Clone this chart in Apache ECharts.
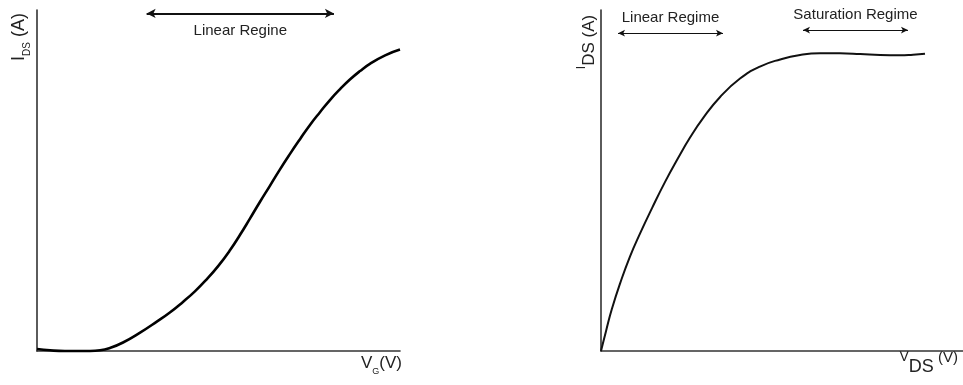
<!DOCTYPE html>
<html>
<head>
<meta charset="utf-8">
<script src="https://cdn.jsdelivr.net/npm/echarts@6/dist/echarts.min.js"></script>
<style>
  html, body { margin: 0; padding: 0; background: #fff; }
  #chart { width: 963px; height: 385px; }
</style>
</head>
<body>
<div id="chart"></div>
<script>
// Transfer characteristic: I_DS versus gate voltage (arbitrary units, 0-100)
const transferVg  = [0, 3.6, 7.7, 14.6, 17.4, 20.1, 23.7, 28.4, 33.1, 36.6, 40.2, 43.5, 46.8, 49.9, 53.2, 55.9,
                     58.7, 61.4, 64.2, 66.9, 69.7, 72.5, 75.2, 78.0, 80.7, 83.5, 86.2, 89.0, 91.7, 95.9, 100];
const transferIds = [0.6, 0.2, 0, 0, 0.2, 0.9, 2.5, 5.4, 8.7, 11.3, 14.4, 17.5, 21.1, 24.9, 29.6, 34.0,
                     38.9, 43.7, 48.5, 53.2, 57.8, 62.2, 66.3, 70.1, 73.6, 76.8, 79.6, 82.1, 84.2, 86.7, 88.4];

// Output characteristic: I_DS versus drain voltage (arbitrary units, 0-100)
const outputVds = [0, 1.4, 3.0, 5.3, 8.0, 10.8, 14.1, 17.7, 21.3, 24.6, 28.2, 32.9, 38.4, 43.9,
                   49.5, 55.0, 60.5, 66.0, 71.6, 77.1, 82.6, 86.2, 89.5];
const outputIds = [0, 5.9, 12.3, 19.9, 27.7, 34.5, 41.9, 49.6, 56.6, 62.6, 68.3, 74.5, 79.9, 83.4,
                   85.5, 86.8, 87.3, 87.3, 87.1, 86.8, 86.7, 86.9, 87.2];

// Regime annotations: [label, xStart, xEnd, level]
const transferRegimes = [['Linear Regine', 30.2, 81.8, 99.0]];
const outputRegimes = [
  ['Linear Regime', 4.7, 33.7, 93.2],
  ['Saturation Regime', 55.8, 84.8, 94.1]
];

const FONT = '"Liberation Sans", Arial, sans-serif';
const pair = (xs, ys) => xs.map((x, i) => [x, ys[i]]);

function regimeLines(list, pos, dist, width, size) {
  return {
    silent: true,
    symbol: ['arrow', 'arrow'],
    symbolSize: size,
    lineStyle: { color: '#111', width: width, type: 'solid' },
    label: {
      show: true, position: pos, distance: dist,
      color: '#222', fontFamily: FONT, fontSize: 15,
      formatter: p => p.name
    },
    emphasis: { disabled: true },
    data: list.map(r => [
      { name: r[0], coord: [r[1], r[3]] },
      { coord: [r[2], r[3]] }
    ])
  };
}

const axisCommon = (gridIndex) => ({
  gridIndex, type: 'value', min: 0, max: 100,
  axisLine: { show: true, lineStyle: { color: '#333', width: 1.6 } },
  axisTick: { show: false }, axisLabel: { show: false },
  splitLine: { show: false }
});

const chart = echarts.init(document.getElementById('chart'), null, { renderer: 'canvas' });
chart.setOption({
  animation: false,
  backgroundColor: '#fff',
  grid: [
    { left: 37, top: 10, width: 363, height: 341 },
    { left: 601, top: 10, width: 362, height: 341 }
  ],
  xAxis: [axisCommon(0), axisCommon(1)],
  yAxis: [axisCommon(0), axisCommon(1)],
  series: [
    {
      type: 'line', xAxisIndex: 0, yAxisIndex: 0,
      data: pair(transferVg, transferIds),
      smooth: 0.5, showSymbol: false, clip: false,
      lineStyle: { color: '#000', width: 2.6 },
      markLine: regimeLines(transferRegimes, 'insideMiddleBottom', 10, 2, [7, 9])
    },
    {
      type: 'line', xAxisIndex: 1, yAxisIndex: 1,
      data: pair(outputVds, outputIds),
      smooth: 0.5, showSymbol: false, clip: false,
      lineStyle: { color: '#111', width: 2 },
      markLine: regimeLines(outputRegimes, 'insideMiddleTop', 7.5, 1, [5, 7])
    }
  ],
  graphic: [
    {
      type: 'text', x: 21, y: 37, rotation: Math.PI / 2,
      style: {
        text: '{m|I}{s|DS}{m| (A)}',
        align: 'center', verticalAlign: 'middle', fill: '#222',
        rich: {
          m: { fontFamily: FONT, fontSize: 18, lineHeight: 22, verticalAlign: 'bottom', padding: [0, 0, 4, 0], fill: '#222' },
          s: { fontFamily: FONT, fontSize: 10, lineHeight: 11, verticalAlign: 'bottom', fill: '#222' }
        }
      }
    },
    {
      type: 'text', x: 402, y: 365,
      style: {
        text: '{m|V}{s|G}{m|(V)}',
        align: 'right', verticalAlign: 'middle', fill: '#222',
        rich: {
          m: { fontFamily: FONT, fontSize: 17, lineHeight: 22, verticalAlign: 'bottom', padding: [0, 0, 4, 0], fill: '#222' },
          s: { fontFamily: FONT, fontSize: 9, lineHeight: 10, verticalAlign: 'bottom', fill: '#222' }
        }
      }
    },
    {
      type: 'text', x: 587, y: 42, rotation: Math.PI / 2,
      style: {
        text: '{t|I}{m|DS}{m| (A)}',
        align: 'center', verticalAlign: 'middle', fill: '#222',
        rich: {
          t: { fontFamily: FONT, fontSize: 12, lineHeight: 22, verticalAlign: 'top', fill: '#222' },
          m: { fontFamily: FONT, fontSize: 17, lineHeight: 20, verticalAlign: 'bottom', fill: '#222' }
        }
      }
    },
    {
      type: 'text', x: 958, y: 363,
      style: {
        text: '{t|V}{m|DS}{u| (V)}',
        align: 'right', verticalAlign: 'middle', fill: '#222',
        rich: {
          t: { fontFamily: FONT, fontSize: 14, lineHeight: 26, verticalAlign: 'top', fill: '#222' },
          m: { fontFamily: FONT, fontSize: 18, lineHeight: 20, verticalAlign: 'bottom', fill: '#222' },
          u: { fontFamily: FONT, fontSize: 15, lineHeight: 26, verticalAlign: 'top', fill: '#222' }
        }
      }
    }
  ]
});
</script>
</body>
</html>
